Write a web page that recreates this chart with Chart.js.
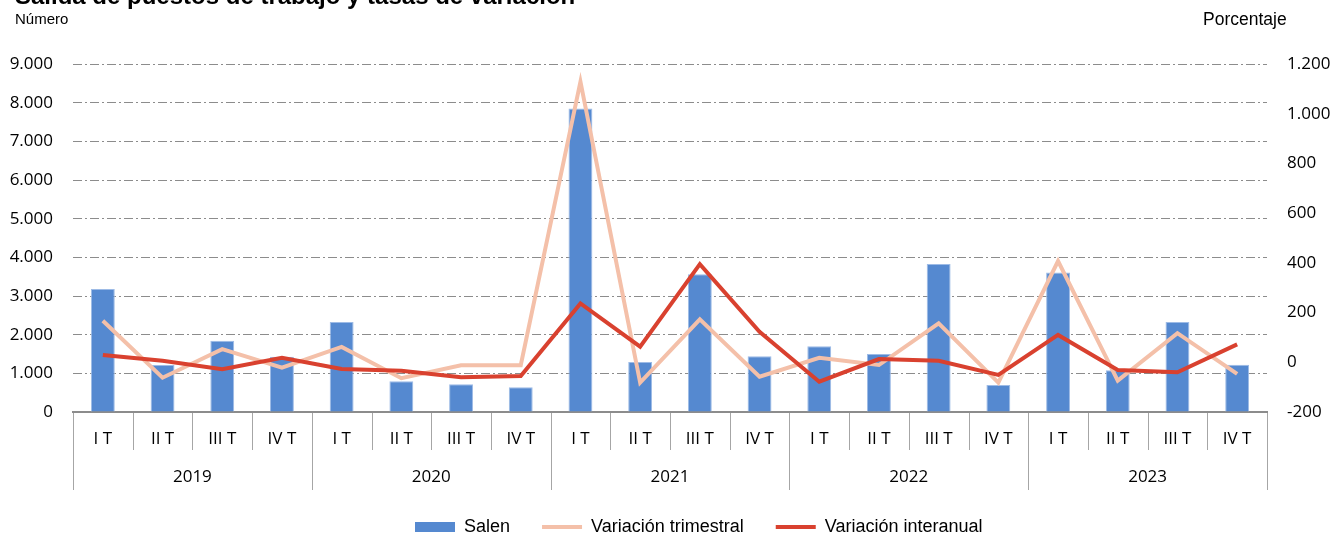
<!DOCTYPE html>
<html><head><meta charset="utf-8">
<script src="https://cdn.jsdelivr.net/npm/chart.js@4.4.1/dist/chart.umd.min.js"></script>
<style>
html,body{margin:0;padding:0;background:#fff;overflow:hidden;}
#wrap{position:relative;width:1333px;height:535px;}
canvas{position:absolute;left:0;top:0;}
.t{position:absolute;font-family:"Liberation Sans",Arial,sans-serif;color:#000;white-space:nowrap;}
#title{left:15px;top:-16px;font-size:24px;font-weight:bold;line-height:24px;}
#ly{left:15px;top:10.5px;font-size:15px;line-height:15px;}
#ry{left:1203px;top:11px;font-size:17.5px;line-height:17.5px;}
</style></head>
<body><div id="wrap">
<canvas id="c" width="1333" height="535"></canvas>
<div class="t" id="title">Salida de puestos de trabajo y tasas de variación</div>
<div class="t" id="ly">Número</div>
<div class="t" id="ry">Porcentaje</div>
</div>
<script>
const quarters = ["I T","II T","III T","IV T","I T","II T","III T","IV T","I T","II T","III T","IV T","I T","II T","III T","IV T","I T","II T","III T","IV T"];
const years = ["2019","2020","2021","2022","2023"];
const salen = [3180,1215,1840,1430,2330,795,715,640,7850,1290,3560,1440,1700,1500,3830,700,3610,1080,2330,1220];
const varTrimestral = [167,-62,53,-22,62,-64,-12,-12,1129,-82,173,-58,18,-11,157,-82,407,-74,117,-47];
const varInteranual = [29,6,-28,18,-27,-34,-60,-55,237,63,395,123,-78,13,6,-51,110,-31,-40,72];
const leftTicks = [0,1000,2000,3000,4000,5000,6000,7000,8000,9000];
const rightTicks = [-200,0,200,400,600,800,1000,1200];

const fmt = v => { const s = Math.abs(v).toString().replace(/\B(?=(\d{3})+(?!\d))/g, "."); return (v<0?"-":"")+s; };
const TICK_FONT = '"Open Sans", sans-serif';
const LEG_PAD = 32, LEG_FONT = 18;

const groupPlugin = {
  id: 'groups',
  afterLayout(chart) {
    const l = chart.legend;
    if (!l || !l.lineWidths) return;
    const x0 = (l.left + LEG_PAD + l.right - l.lineWidths[0]) / 2;
    const dx = 415 - x0;
    const cy = l.top + LEG_PAD + LEG_FONT / 2;
    const dy = 527 - cy;
    l.left += dx; l.right += dx; l.top += dy; l.bottom += dy;
  },
  afterDraw(chart) {
    const ctx = chart.ctx, xs = chart.scales.x, area = chart.chartArea;
    const n = quarters.length;
    const step = (xs.getPixelForValue(1) - xs.getPixelForValue(0));
    ctx.save();
    ctx.strokeStyle = '#a6a6a6';
    ctx.lineWidth = 1;
    for (let i = 0; i <= n; i++) {
      const x = Math.round(xs.getPixelForValue(0) - step/2 + i*step) + 0.5;
      const yEnd = (i % 4 === 0) ? area.bottom + 78 : area.bottom + 38;
      ctx.beginPath(); ctx.moveTo(x, area.bottom + 1); ctx.lineTo(x, yEnd); ctx.stroke();
    }
    ctx.fillStyle = '#000';
    ctx.font = '17px ' + TICK_FONT;
    ctx.textAlign = 'center'; ctx.textBaseline = 'middle';
    years.forEach((y, k) => {
      const x = (xs.getPixelForValue(k*4) + xs.getPixelForValue(k*4+3)) / 2;
      ctx.fillText(y, x, area.bottom + 65);
    });
    ctx.restore();
  }
};

new Chart(document.getElementById('c'), {
  data: {
    labels: quarters,
    datasets: [
      { type: 'bar', label: 'Salen', data: salen, yAxisID: 'y', backgroundColor: '#5589d0', borderColor: '#9dbbe6', borderWidth: 1, barPercentage: 0.4, categoryPercentage: 1, order: 3 },
      { type: 'line', label: 'Variación trimestral', data: varTrimestral, yAxisID: 'y1', borderColor: '#f4c0a9', backgroundColor: '#f4c0a9', borderWidth: 4, pointRadius: 0, tension: 0, order: 2 },
      { type: 'line', label: 'Variación interanual', data: varInteranual, yAxisID: 'y1', borderColor: '#d9412f', backgroundColor: '#d9412f', borderWidth: 4, pointRadius: 0, tension: 0, order: 1 }
    ]
  },
  options: {
    responsive: false, animation: false,
    layout: { padding: { top: 64, left: 0, right: 0, bottom: 0 } },
    plugins: {
      tooltip: { enabled: false },
      legend: {
        position: 'bottom',
        labels: {
          color: '#000', font: { family: '"Liberation Sans", Arial, sans-serif', size: LEG_FONT },
          padding: LEG_PAD, boxHeight: 10, usePointStyle: true, pointStyleWidth: 40,
          generateLabels(chart) {
            return chart.data.datasets.map((d, i) => ({
              text: d.label, fillStyle: d.backgroundColor, strokeStyle: d.type === 'bar' ? d.backgroundColor : d.borderColor,
              lineWidth: d.type === 'bar' ? 0 : 4, pointStyle: d.type === 'bar' ? 'rect' : 'line', datasetIndex: i, hidden: false, fontColor: '#000'
            }));
          }
        }
      }
    },
    scales: {
      x: {
        type: 'category', offset: true,
        grid: { display: false, drawTicks: false },
        border: { display: true, color: '#8c8c8c', width: 2 },
        ticks: { color: '#000', padding: 17, maxRotation: 0, autoSkip: false, font: { family: TICK_FONT, size: 17 } },
        afterFit: s => { s.height = 63; }
      },
      y: {
        position: 'left', min: 0, max: 9000,
        afterBuildTicks: s => { s.ticks = leftTicks.map(v => ({ value: v })); },
        grid: { color: '#8c8c8c', lineWidth: 1, drawTicks: false },
        border: { display: false, dash: [9,3,2,3] },
        ticks: { color: '#000', padding: 20, callback: v => fmt(v), font: { family: TICK_FONT, size: 17 } },
        afterFit: s => { s.width = 73; }
      },
      y1: {
        position: 'right', min: -200, max: 1200,
        afterBuildTicks: s => { s.ticks = rightTicks.map(v => ({ value: v })); },
        grid: { display: false, drawTicks: false },
        border: { display: false },
        ticks: { color: '#000', padding: 20, callback: v => fmt(v), font: { family: TICK_FONT, size: 17 } },
        afterFit: s => { s.width = 66; }
      }
    }
  },
  plugins: [groupPlugin]
});
</script>
</body></html>
